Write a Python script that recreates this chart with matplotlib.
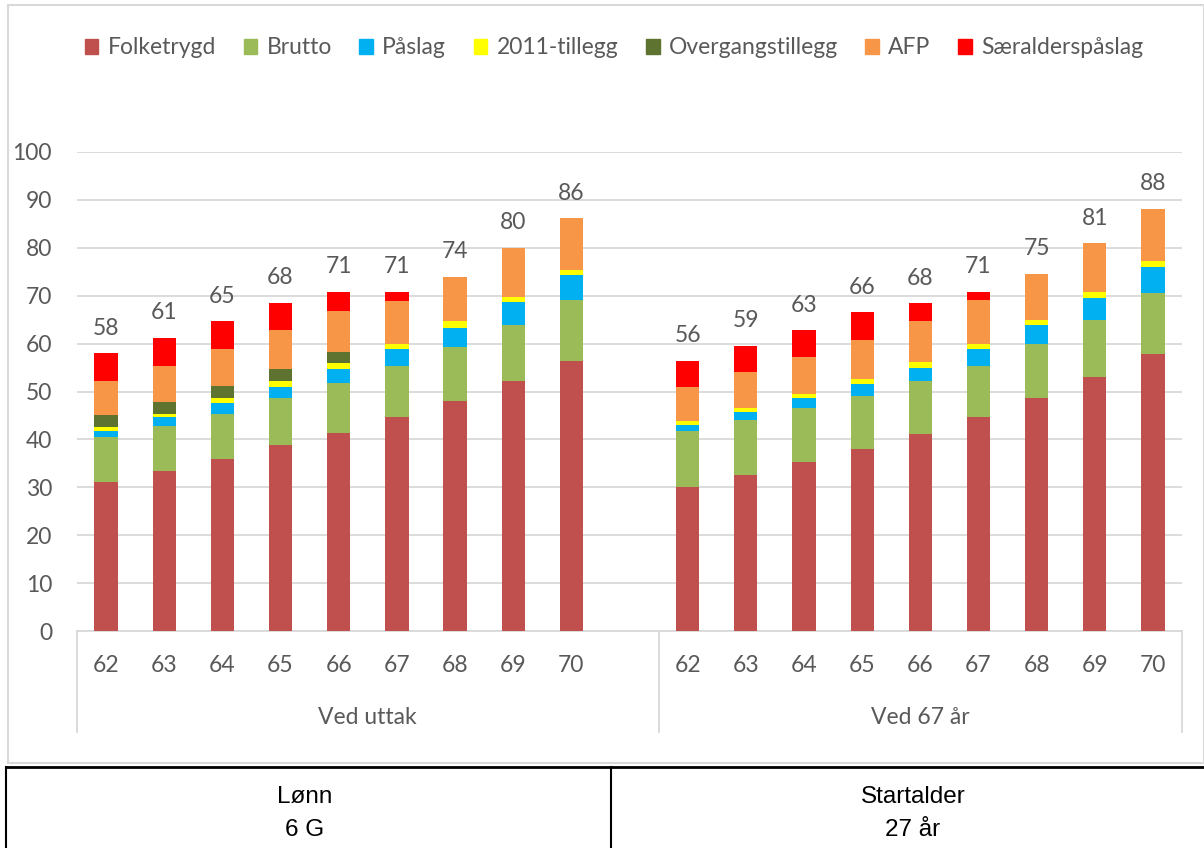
import numpy as np
import matplotlib
matplotlib.use("Agg")
import matplotlib.pyplot as plt
from matplotlib.patches import Rectangle
from matplotlib.lines import Line2D
import matplotlib.transforms as mtransforms

plt.rcParams['font.family'] = ['Lato', 'DejaVu Sans']

# data: left group "Ved uttak", right group "Ved 67 år"
ages = ["62", "63", "64", "65", "66", "67", "68", "69", "70"]
groups = ["Ved uttak", "Ved 67 år"]
series = ["Folketrygd", "Brutto", "Påslag", "2011-tillegg", "Overgangstillegg", "AFP", "Særalderspåslag"]
colors = ["#C0504D", "#9BBB59", "#00B0F0", "#FFFF00", "#5F7331", "#F79646", "#FF0000"]

folketrygd_l = [31.2, 33.4, 36.0, 38.8, 41.4, 44.6, 48.1, 52.2, 56.4]
brutto_l     = [9.2, 9.4, 9.4, 9.9, 10.4, 10.7, 11.2, 11.7, 12.6]
paslag_l     = [1.3, 1.9, 2.1, 2.3, 3.0, 3.5, 4.0, 4.8, 5.3]
tillegg_l    = [0.8, 0.7, 1.1, 1.1, 1.1, 1.1, 1.4, 1.1, 1.1]
overgang_l   = [2.5, 2.5, 2.5, 2.5, 2.3, 0, 0, 0, 0]
afp_l        = [7.1, 7.4, 7.7, 8.2, 8.7, 9.0, 9.3, 10.2, 10.8]
saer_l       = [5.9, 5.9, 5.9, 5.7, 3.9, 1.9, 0, 0, 0]
totals_l     = [58, 61, 65, 68, 71, 71, 74, 80, 86]

folketrygd_r = [30.1, 32.6, 35.3, 37.9, 41.1, 44.6, 48.6, 53.0, 57.8]
brutto_r     = [11.6, 11.5, 11.2, 11.2, 11.0, 10.7, 11.3, 11.9, 12.8]
paslag_r     = [1.3, 1.6, 2.1, 2.5, 2.9, 3.5, 4.0, 4.6, 5.3]
tillegg_r    = [0.8, 0.9, 0.9, 1.0, 1.1, 1.1, 1.0, 1.3, 1.3]
overgang_r   = [0, 0, 0, 0, 0, 0, 0, 0, 0]
afp_r        = [7.2, 7.4, 7.7, 8.1, 8.6, 9.1, 9.7, 10.2, 11.0]
saer_r       = [5.4, 5.6, 5.6, 5.8, 3.7, 1.8, 0, 0, 0]
totals_r     = [56, 59, 63, 66, 68, 71, 75, 81, 88]

left = [folketrygd_l, brutto_l, paslag_l, tillegg_l, overgang_l, afp_l, saer_l]
right = [folketrygd_r, brutto_r, paslag_r, tillegg_r, overgang_r, afp_r, saer_r]

grey = "#595959"
fs = 16.5
W, H = 1204, 848
fig = plt.figure(figsize=(W / 100, H / 100), dpi=100)
ax = fig.add_axes([77 / W, 1 - 631 / H, (1182 - 77) / W, (631 - 152) / H])

x_l = np.arange(9)
x_r = np.arange(9) + 10
x_all = np.concatenate([x_l, x_r])

bottom = np.zeros(18)
for name, col, vl, vr in zip(series, colors, left, right):
    vals = np.array(vl + vr)
    ax.bar(x_all, vals, 0.4, bottom=bottom, color=col, label=name, zorder=3)
    bottom += vals

for x, t, top in zip(x_all, totals_l + totals_r, bottom):
    ax.annotate(str(t), (x, top), xytext=(0, 25), textcoords="offset pixels",
                ha="center", va="center", fontsize=fs, color=grey)

ax.set_xlim(-0.5, 18.5)
ax.set_ylim(0, 100)
ax.set_yticks(range(0, 101, 10))
ax.yaxis.grid(True, color="#D9D9D9", linewidth=1.3, zorder=0)
for s in ["top", "right", "left"]:
    ax.spines[s].set_visible(False)
ax.spines["bottom"].set_color("#D9D9D9")
ax.spines["bottom"].set_linewidth(1.3)
ax.set_xticks(x_all)
ax.set_xticklabels(ages + ages)
ax.tick_params(axis="x", length=0, pad=17, labelsize=fs, labelcolor=grey)
ax.tick_params(axis="y", length=0, pad=18, labelsize=fs, labelcolor=grey)

trans = mtransforms.blended_transform_factory(ax.transData, ax.transAxes)
for xb in [-0.5, 9.5, 18.5]:
    ax.plot([xb, xb], [0, -0.21], color="#D9D9D9", linewidth=1.3, transform=trans, clip_on=False)
ax.text(4.5, -0.18, groups[0], transform=trans, ha="center", va="center", fontsize=fs, color=grey)
ax.text(14, -0.18, groups[1], transform=trans, ha="center", va="center", fontsize=fs, color=grey)

handles = [Rectangle((0, 0), 1, 1, color=c) for c in colors]
fig.legend(handles, series, loc="center", bbox_to_anchor=(614 / W, 1 - 48 / H), ncol=7,
           frameon=False, fontsize=fs, labelcolor=grey, handlelength=0.6, handleheight=0.6,
           handletextpad=0.4, columnspacing=1.2)

# chart area border
fig.patches.append(Rectangle((8 / W, 1 - 763 / H), (W - 8) / W, (763 - 5) / H,
                             transform=fig.transFigure, fill=False, edgecolor="#D9D9D9", linewidth=1.5))

# table below chart
fig.add_artist(Line2D([6 / W, 1], [1 - 767 / H, 1 - 767 / H], color="black", linewidth=2, transform=fig.transFigure))
fig.add_artist(Line2D([6 / W, 6 / W], [0, 1 - 767 / H], color="black", linewidth=1.5, transform=fig.transFigure))
fig.add_artist(Line2D([611 / W, 611 / W], [0, 1 - 767 / H], color="black", linewidth=1.5, transform=fig.transFigure))
tfs = 17.5
fig.text(305 / W, 1 - 797 / H, "Lønn", ha="center", va="center", fontsize=tfs, family="Liberation Sans")
fig.text(305 / W, 1 - 830 / H, "6 G", ha="center", va="center", fontsize=tfs, family="Liberation Sans")
fig.text(913 / W, 1 - 797 / H, "Startalder", ha="center", va="center", fontsize=tfs, family="Liberation Sans")
fig.text(913 / W, 1 - 830 / H, "27 år", ha="center", va="center", fontsize=tfs, family="Liberation Sans")

fig.savefig("out.png", dpi=100)
